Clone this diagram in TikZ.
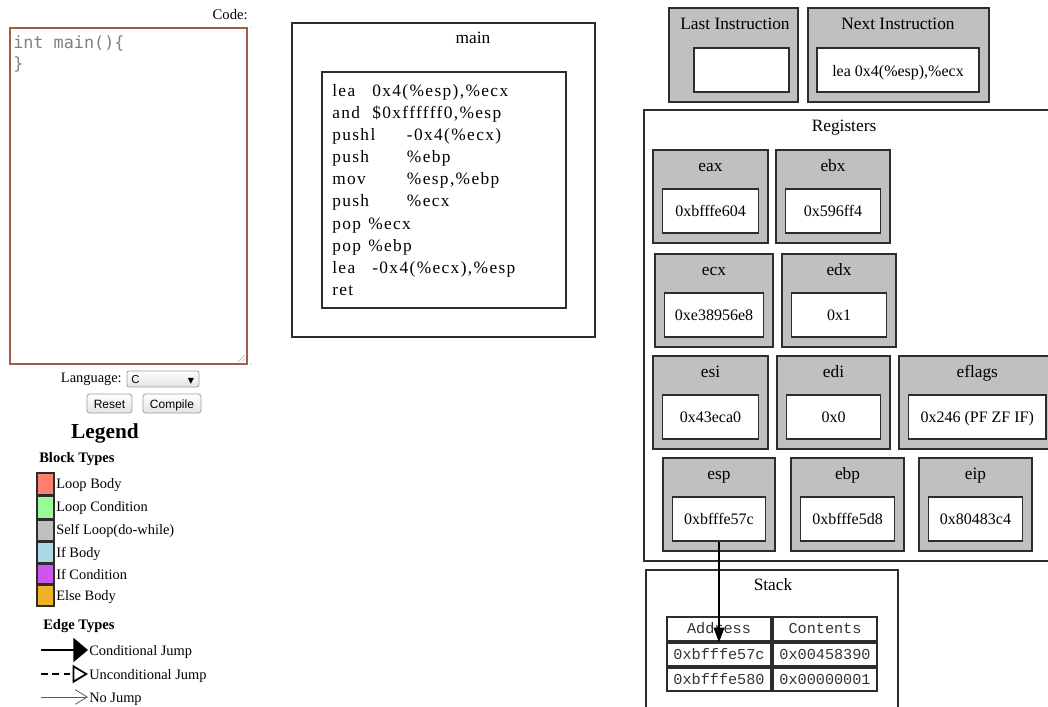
\documentclass[tikz,border=0pt]{standalone}
\usepackage{fontspec}
\setmainfont{Liberation Serif}
\newfontfamily\monof{Liberation Mono}
\newfontfamily\dmonof{DejaVu Sans Mono}
\newfontfamily\sansf{Liberation Sans}
\newfontfamily\symf{DejaVu Sans}
\newfontfamily\codeserif[LetterSpace=8]{Liberation Serif}
\usetikzlibrary{arrows.meta,fit}
\definecolor{gfill}{RGB}{192,192,192}
\definecolor{bordc}{RGB}{45,45,45}
\definecolor{tabrd}{RGB}{165,92,70}
\definecolor{codec}{RGB}{122,128,134}
\definecolor{cLoopBody}{RGB}{250,128,114}
\definecolor{cLoopCond}{RGB}{152,251,152}
\definecolor{cSelf}{RGB}{192,192,192}
\definecolor{cIfBody}{RGB}{173,216,230}
\definecolor{cIfCond}{RGB}{204,85,236}
\definecolor{cElse}{RGB}{238,178,36}
\newcommand\fsz[1]{\fontsize{#1}{#1}\selectfont}
\newcommand\reg[6]{%
  \node[gbox, fit={(#2,#4) (#3,{#4+93})}] (#1) {};
  \node[wbox, fit={({#2+9.5},{#4+39}) ({#3-9.5},{#4+83})}] (#1v) {};
  \node[ttl] (#1t) at ({(#2+#3)/2},{#4+17}) {#5};
  \node[val] (#1x) at ({(#2+#3)/2},{#4+62}) {#6};
}
\begin{document}
\begin{tikzpicture}[x=0.75pt,y=-0.75pt,
  box/.style={draw=bordc, line width=1.1pt, inner sep=0pt},
  gbox/.style={box, fill=gfill},
  wbox/.style={box, fill=white},
  txt/.style={inner sep=0pt, text height=0.82em, text depth=0.08em},
  ttl/.style={txt, font=\fsz{13pt}},
  val/.style={txt, font=\fsz{12pt}},
  code/.style={txt, anchor=west, font=\codeserif\fsz{13pt}},
  leg/.style={txt, anchor=west, font=\fsz{10.8pt}},
  swatch/.style={draw=bordc, line width=0.8pt, inner sep=0pt},
  cell/.style={draw=bordc, line width=1pt, inner sep=0pt},
  celltxt/.style={txt, text=black!80, font=\monof\fsz{11.4pt}},
  btn/.style={draw=gray!75, rounded corners=2pt, top color=white, bottom color=gray!22, line width=0.6pt, inner sep=0pt},
  ]
\useasboundingbox (0,0) rectangle (1048,706);
\clip (0,0) rectangle (1048,706);

% ---------------- left column: code editor ----------------
\node[txt, anchor=east, font=\fsz{11pt}] (codelbl) at (248,15) {Code:};
\node[draw=tabrd, line width=1.1pt, inner sep=0pt, fit={(10,28) (247,364)}] (area) {};
\node[txt, anchor=west, text=codec, font=\dmonof\fsz{12.6pt}] (c1) at (13,44) {int main()\{};
\node[txt, anchor=west, text=codec, font=\dmonof\fsz{12.6pt}] (c2) at (13,65) {\}};
\draw[gray!60, line width=0.5pt] (238,362) -- (245,355) (241.5,362) -- (245,358.5);
\fill[gray!70] (251,27) circle (0.6);
\fill[gray!70] (251,364) circle (0.6);

\node[txt, anchor=east, font=\fsz{10.8pt}] (langlbl) at (122,378) {Language:};
\node[btn, rounded corners=1.5pt, fit={(127,371) (199,387)}] (sel) {};
\node[txt, anchor=west, font=\sansf\fsz{8.6pt}] (selc) at (131,379) {C};
\node[txt, font=\symf\fsz{6pt}] (selarr) at (191,379) {▼};
\node[btn, fit={(87,394) (132,413)}] (reset) {};
\node[txt, font=\sansf\fsz{9pt}] at (reset.center) {Reset};
\node[btn, fit={(143,394) (201,413)}] (compile) {};
\node[txt, font=\sansf\fsz{9pt}] at (compile.center) {Compile};

% ---------------- legend ----------------
\node[txt, font=\bfseries\fsz{16pt}] (legend) at (105,434) {Legend};
\node[txt, anchor=west, font=\bfseries\fsz{10.9pt}] (btypes) at (39,458) {Block Types};
\node[swatch, fill=cLoopBody, fit={(37,473) (54,495)}] (s1) {};
\node[swatch, fill=cLoopCond, fit={(37,496) (54,519)}] (s2) {};
\node[swatch, fill=cSelf, fit={(37,520) (54,541)}] (s3) {};
\node[swatch, fill=cIfBody, fit={(37,542) (54,563)}] (s4) {};
\node[swatch, fill=cIfCond, fit={(37,564) (54,584)}] (s5) {};
\node[swatch, fill=cElse, fit={(37,585) (54,606)}] (s6) {};
\node[leg] (t1) at (56,484) {Loop Body};
\node[leg] (t2) at (56,507) {Loop Condition};
\node[leg] (t3) at (56,530) {Self Loop(do-while)};
\node[leg] (t4) at (56,553) {If Body};
\node[leg] (t5) at (56,575) {If Condition};
\node[leg] (t6) at (56,596) {Else Body};
\node[txt, anchor=west, font=\bfseries\fsz{10.9pt}] (etypes) at (43,625) {Edge Types};
\coordinate (e1a) at (41,650); \coordinate (e1b) at (88,650);
\coordinate (e2a) at (41,674); \coordinate (e2b) at (88,674);
\coordinate (e3a) at (41,697); \coordinate (e3b) at (88,697);
\draw[line width=1.6pt, -{Triangle[length=11pt,width=18pt]}] (e1a) -- (e1b);
\draw[line width=1.6pt, dash pattern=on 5pt off 3.5pt, -{Triangle[open,length=11.5pt,width=13.5pt,line width=1.3pt]}] (e2a) -- (e2b);
\draw[gray!70!black, line width=0.6pt, -{Straight Barb[length=9pt,width=11pt,line width=0.6pt]}] (e3a) -- (e3b);
\node[leg] (el1) at (89,651) {Conditional Jump};
\node[leg] (el2) at (89,675) {Unconditional Jump};
\node[leg] (el3) at (89,698) {No Jump};

% ---------------- main function block ----------------
\node[box, fit={(292,23) (595,337)}] (mainouter) {};
\node[ttl] (maint) at (473,39) {main};
\node[box, fit={(322,72) (566,308)}] (maininner) {};
\node[code] (l1) at (332,91.5)  {\makebox[30pt][l]{lea}0x4(\%esp),\%ecx};
\node[code] (l2) at (332,113.6) {\makebox[30pt][l]{and}\$0xffffff0,\%esp};
\node[code] (l3) at (332,135.7) {\makebox[56pt][l]{pushl}-0x4(\%ecx)};
\node[code] (l4) at (332,157.8) {\makebox[56pt][l]{push}\%ebp};
\node[code] (l5) at (332,179.9) {\makebox[56pt][l]{mov}\%esp,\%ebp};
\node[code] (l6) at (332,202.0) {\makebox[56pt][l]{push}\%ecx};
\node[code] (l7) at (332,224.1) {\makebox[27pt][l]{pop}\%ecx};
\node[code] (l8) at (332,246.2) {\makebox[27pt][l]{pop}\%ebp};
\node[code] (l9) at (332,268.3) {\makebox[30pt][l]{lea}-0x4(\%ecx),\%esp};
\node[code] (l10) at (332,290.4) {ret};

% ---------------- instructions ----------------
\node[gbox, fit={(669,8) (798,102)}] (last) {};
\node[ttl] (lastt) at (735,25) {Last Instruction};
\node[wbox, fit={(694,48) (789,92)}] (lastv) {};
\node[gbox, fit={(808,8) (989,102)}] (next) {};
\node[ttl] (nextt) at (898,25) {Next Instruction};
\node[wbox, fit={(817,48) (979,92)}] (nextv) {};
\node[val] (nextx) at (898,72) {lea 0x4(\%esp),\%ecx};

% ---------------- registers ----------------
\node[box, fit={(644,110) (1070,561)}] (regs) {};
\node[ttl] (regst) at (844,127) {Registers};
\reg{eax}{653}{768}{150}{eax}{0xbfffe604}
\reg{ebx}{776}{890}{150}{ebx}{0x596ff4}
\reg{ecx}{655}{773}{254}{ecx}{0xe38956e8}
\reg{edx}{782}{896}{254}{edx}{0x1}
\reg{esi}{653}{768}{356}{esi}{0x43eca0}
\reg{edi}{777}{890}{356}{edi}{0x0}
\reg{efl}{899}{1055.5}{356}{eflags}{0x246 (PF ZF IF)}
\reg{esp}{663}{775}{458}{esp}{0xbfffe57c}
\reg{ebp}{791}{904}{458}{ebp}{0xbfffe5d8}
\reg{eip}{919}{1032}{458}{eip}{0x80483c4}

% ---------------- stack ----------------
\node[box, fit={(646,570) (898,730)}] (stack) {};
\node[ttl] (stackt) at (773,586) {Stack};
\node[cell, fit={(667,617) (771,641)}] (h1) {};
\node[cell, fit={(773,617) (877,641)}] (h2) {};
\node[cell, fit={(667,643) (771,666)}] (a1) {};
\node[cell, fit={(773,643) (877,666)}] (b1) {};
\node[cell, fit={(667,668) (771,691)}] (a2) {};
\node[cell, fit={(773,668) (877,691)}] (b2) {};
\node[celltxt] at (h1.center) {Address};
\node[celltxt] at (h2.center) {Contents};
\node[celltxt] at (a1.center) {0xbfffe57c};
\node[celltxt] at (b1.center) {0x00458390};
\node[celltxt] at (a2.center) {0xbfffe580};
\node[celltxt] at (b2.center) {0x00000001};

\draw[line width=1pt, -{Triangle[length=11pt,width=8pt]}] (espv.south) -- (a1.north);
\end{tikzpicture}
\end{document}
